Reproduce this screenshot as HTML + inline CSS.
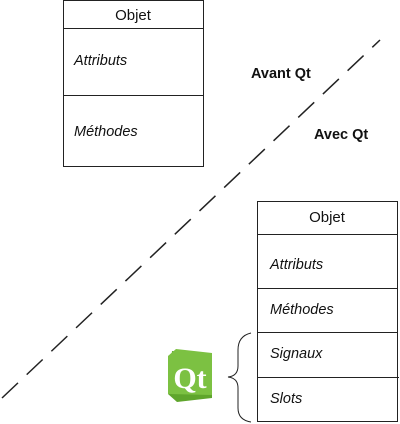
<!DOCTYPE html><html><head><style>body{margin:0;background:#fff}svg{display:block}</style></head><body>
<svg width="400" height="424" xmlns="http://www.w3.org/2000/svg" font-family="Liberation Sans, sans-serif">
<g stroke="#222" stroke-width="1" fill="none">
<rect x="63.5" y="0.5" width="140" height="166"/>
<line x1="63" y1="28.5" x2="204" y2="28.5"/>
<line x1="63" y1="95.5" x2="204" y2="95.5"/>
<rect x="257.5" y="201.5" width="140" height="220"/>
<line x1="257" y1="234.5" x2="398" y2="234.5"/>
<line x1="257" y1="288.5" x2="398" y2="288.5"/>
<line x1="257" y1="332.5" x2="398" y2="332.5"/>
<line x1="257" y1="377.5" x2="399" y2="377.5"/>
<line x1="2" y1="398" x2="380" y2="40" stroke-width="1.5" stroke-dasharray="22,12"/>
<path d="M251 333 Q238 336 238 350 L238 366 Q238 376 228 377 Q238 378 238 388 L238 408 Q238 420 251 422"/>
</g>
<g font-size="15" fill="#111">
<text x="133" y="20" text-anchor="middle">Objet</text>
<text x="327" y="222" text-anchor="middle">Objet</text>
<g font-style="italic" font-size="14.5">
<text x="74" y="65">Attributs</text>
<text x="74" y="136">Méthodes</text>
<text x="270" y="269">Attributs</text>
<text x="270" y="314">Méthodes</text>
<text x="270" y="358">Signaux</text>
<text x="270" y="403">Slots</text>
</g>
<g font-weight="bold" font-size="14.5">
<text x="251" y="78">Avant Qt</text>
<text x="314" y="139">Avec Qt</text>
</g>
</g>
<path d="M172 351 L212 355 L212 398 L177 402 L168 394 Z" fill="#5fa52c"/>
<path d="M176 349 L212 353 L212 395 L168 394 L168 356 Z" fill="#7cc142"/>
<text x="190" y="388" text-anchor="middle" font-size="30" font-weight="bold" fill="#fff" font-family="Liberation Serif, serif">Qt</text>
</svg>
</body></html>
